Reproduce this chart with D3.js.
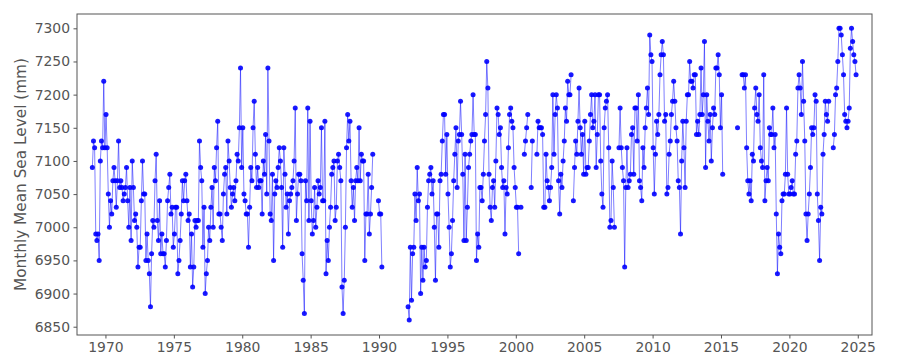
<!DOCTYPE html>
<html>
<head>
<meta charset="utf-8">
<script src="https://cdn.jsdelivr.net/npm/d3@7"></script>
<style>
  body { margin: 0; background: #fff; }
  text { font-family: "DejaVu Sans", sans-serif; }
</style>
</head>
<body>
<div id="chart"></div>
<script>
// monthly mean sea level (mm), first value = Jan 1969, null = missing month
var startYear = 1969
var yearTicks = [1970, 1975, 1980, 1985, 1990, 1995, 2000, 2005, 2010, 2015, 2020, 2025]
var levelTicks = [6850, 6900, 6950, 7000, 7050, 7100, 7150, 7200, 7250, 7300]

var levels1969 = [7090,7130,7120,6990,6980,6990,6950,7100,7130,7120,7220,7120]

var levels1970s = [
  7170,7120,7050,7000,7040,7020,7070,7090,7070,7030,7070,7130,
  7060,7070,7060,7040,7050,7060,7090,7040,7000,7060,6980,7100,
  7060,7010,7020,7000,6940,6970,6970,7040,7100,7050,7050,6950,
  6990,6950,6930,6880,6960,7010,7000,7070,7110,7010,6980,7040,
  6960,6990,6960,6960,6940,6980,7040,7060,7080,7020,7030,6970,
  6990,7030,7030,6930,6950,6980,7020,7070,7040,7070,7080,7040,
  7010,7020,6940,6990,6910,6940,7010,7000,7010,7010,7130,7090,
  7070,6970,7030,6900,6930,6950,7000,6980,7030,7060,7000,7090,
  7070,7120,7160,7020,7020,7000,6980,7050,7080,7090,7020,7130,
  7100,7060,7030,7050,7060,7040,7070,7110,7100,7150,7240,7090
]

var levels1980s = [
  7150,7050,7040,7020,7020,6970,7030,7090,7070,7150,7190,7110,
  7060,7090,7060,7070,7070,7020,7100,7080,7140,7050,7240,7130,
  7020,7010,7080,6950,7050,7070,7060,7090,7120,7100,7060,6970,
  7120,7080,7030,7050,6990,7040,7050,7060,7070,7100,7180,7010,
  7050,7080,7080,7070,6960,6920,6870,7070,7040,7180,7010,7160,
  7040,6990,7010,7060,7000,7030,7070,7050,7060,7150,7040,7040,
  7160,6930,6980,6950,7000,7030,7080,7090,7100,7010,7030,7100,
  7110,7090,7070,6910,6870,6920,7000,7120,7170,7130,7160,7070,
  7030,7060,7010,7070,7090,7070,7150,7070,7110,7100,7100,6950,
  7020,7020,7080,6990,7020,7060,7110,null,null,null,null,7040
]

var levels1990s = [
  7020,7020,6940,null,null,null,null,null,null,null,null,null,
  null,null,null,null,null,null,null,null,null,null,null,null,
  null,6880,6860,6970,6890,6960,6970,7050,7010,7090,7040,7050,
  6900,6970,6920,6970,6940,6950,7030,7070,7080,7090,7050,7070,
  7000,6920,7020,7020,6970,7070,7080,7130,7170,7170,7080,7140,
  7050,7000,6940,6960,7010,7070,7110,7150,7060,7130,7140,7190,
  7140,7080,6980,7110,6980,7030,7090,7110,7130,7140,7200,7140,
  7140,6950,6990,6970,7060,7060,7040,7080,7130,7170,7250,7210,
  7080,7030,7010,7060,7070,7030,7100,7180,7170,7140,7150,7090,
  7060,7070,6990,7060,7050,7120,7170,7180,7160,7150,7090,7060
]

var levels2000s = [
  7030,7030,6960,null,7030,null,null,7110,7130,7150,7170,null,
  null,7060,7130,null,null,null,7110,7160,7150,7150,7150,7140,
  7030,7030,7110,7070,7060,7040,7060,7090,7200,7110,7170,7200,
  7180,7070,7020,7080,7060,7100,7130,7180,7160,7220,7200,7200,
  7230,null,7040,7090,7130,7110,7160,7210,7150,7110,7140,7080,
  7160,7080,7090,7090,7130,7170,7200,7150,7160,7200,7090,7140,
  7200,7200,7100,7050,7030,7150,7180,7190,7200,7120,7000,7010,
  7100,7060,7000,null,null,null,7120,7180,7120,7090,7070,6940,
  7060,7120,7060,7070,7080,7140,7150,7080,7180,7180,7130,7200,
  7070,7060,7040,7120,7090,7150,7180,7210,7170,7290,7260,7250
]

var levels2010s = [
  7120,7050,7110,7160,7140,7170,7230,7260,7280,7260,7160,7170,
  7050,7060,7110,7130,7170,7190,7220,7190,7150,7130,7070,7060,
  6990,7100,7160,7120,7060,7160,7200,7200,7250,7220,7220,7210,
  7230,7230,7140,7160,7140,7170,7240,7170,7200,7280,7090,7200,
  7160,7130,7170,7100,7150,7180,7170,7240,7240,7260,7230,7150,
  7200,7080,null,null,null,null,null,null,null,null,null,null,
  null,null,7150,null,null,null,7230,7230,7210,7230,7120,7070,
  7050,7070,7040,7110,7100,7180,7210,7170,7160,7200,7120,7100,
  7090,7230,7040,7070,7090,7070,7150,7140,7140,7180,7120,7140,
  7020,6930,6990,6970,6960,7040,7050,7050,7080,7180,7080,7050
]

var levels2020s = [
  7050,7060,7070,7050,7050,7110,7130,7210,7230,7210,7170,7250,
  7190,7130,7020,6980,7020,7050,7090,7150,7140,7150,7200,7190,
  7050,7010,6950,7030,7020,7110,7140,7190,7170,7160,7190,null,
  null,null,7120,7140,7200,7210,7250,7300,7300,7290,7260,7230,
  7170,7160,7150,7160,7180,7270,7300,7280,7260,7250,7230
]

var levels = levels1969.concat(levels1970s, levels1980s, levels1990s, levels2000s, levels2010s, levels2020s)
var data = levels.map((v, i) => ({ t: startYear + (i + 0.5) / 12, v: v }))
var points = data.filter(d => d.v != null)

var margin = { top: 14, right: 28, bottom: 25, left: 77 },
    svg_width = 900,
    svg_height = 360,
    chart_width = svg_width - margin.left - margin.right,
    chart_height = svg_height - margin.top - margin.bottom

var svg = d3.select('#chart')
    .append('svg')
    .attr('width', svg_width)
    .attr('height', svg_height)

var chartGroup = svg.append('g')
    .attr('transform', `translate(${margin.left}, ${margin.top})`)

var xScale = d3.scaleLinear()
    .domain([1967.92, 2026.04])
    .range([0, chart_width])

var yScale = d3.scaleLinear()
    .domain([6837.5, 7321.6])
    .range([chart_height, 0])

var axisColor = '#555'

var xAxis = d3.axisBottom(xScale)
    .tickValues(yearTicks)
    .tickFormat(d3.format('d'))
    .tickSize(3.5)
    .tickPadding(3.5)
    .tickSizeOuter(0)

var yAxis = d3.axisLeft(yScale)
    .tickValues(levelTicks)
    .tickFormat(d3.format('d'))
    .tickSize(3.5)
    .tickPadding(3.5)
    .tickSizeOuter(0)

var gx = chartGroup.append('g')
    .attr('transform', `translate(0, ${chart_height})`)
    .call(xAxis)

var gy = chartGroup.append('g')
    .call(yAxis)

;[gx, gy].forEach(g => {
  g.select('.domain').remove()
  g.selectAll('line').attr('stroke', axisColor)
  g.selectAll('text')
    .attr('fill', axisColor)
    .style('font-size', '13.9px')
})

// series line, broken at missing months
var line = d3.line()
    .defined(d => d.v != null)
    .x(d => xScale(d.t))
    .y(d => yScale(d.v))

chartGroup.append('path')
    .datum(data)
    .attr('d', line)
    .attr('fill', 'none')
    .attr('stroke', '#0000ff')
    .attr('stroke-opacity', 0.5)
    .attr('stroke-width', 1)

chartGroup.append('g')
    .selectAll('circle')
    .data(points)
    .enter()
    .append('circle')
    .attr('cx', d => xScale(d.t))
    .attr('cy', d => yScale(d.v))
    .attr('r', 2.5)
    .attr('fill', '#0000ff')
    .attr('fill-opacity', 0.9)

// frame
chartGroup.append('rect')
    .attr('x', 0)
    .attr('y', 0)
    .attr('width', chart_width)
    .attr('height', chart_height)
    .attr('fill', 'none')
    .attr('stroke', axisColor)
    .attr('stroke-width', 1)

svg.append('text')
    .attr('transform', `translate(21, ${margin.top + chart_height / 2}) rotate(-90)`)
    .attr('text-anchor', 'middle')
    .attr('dy', '0.35em')
    .attr('fill', axisColor)
    .style('font-size', '15.3px')
    .text('Monthly Mean Sea Level (mm)')
</script>
</body>
</html>
